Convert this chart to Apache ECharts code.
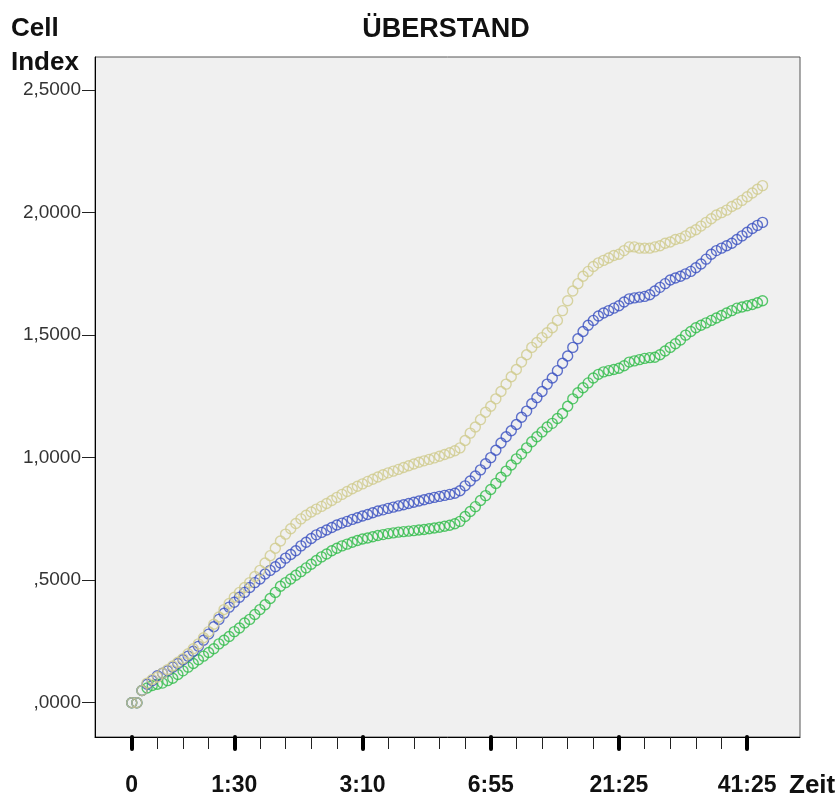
<!DOCTYPE html>
<html><head><meta charset="utf-8">
<script src="https://cdn.jsdelivr.net/npm/echarts@6/dist/echarts.min.js"></script>
<style>html,body{margin:0;padding:0;background:#fff}#c{width:840px;height:803px}</style>
</head><body><div id="c"></div>
<script>
// Tick labels on the time axis and the sample index each one sits at
const timeLabels = ['0', '1:30', '3:10', '6:55', '21:25', '41:25'];
const labelIdx = [0, 20, 45, 70, 95, 120];
const minorIdx = [0, 5, 10, 15, 20, 25, 30, 35, 40, 45, 50, 55, 60, 65, 70, 75, 80, 85, 90, 95, 100, 105, 110, 115, 120];
const yTicks = [0, 0.5, 1, 1.5, 2, 2.5];

// Cell Index per measurement (one value per sample index)
const yellow = [0,0,0.05,0.08,0.095,0.105,0.12,0.135,0.15,0.165,
0.18,0.20,0.22,0.24,0.265,0.29,0.32,0.35,0.38,0.405,
0.43,0.45,0.47,0.49,0.515,0.54,0.57,0.60,0.63,0.66,
0.688,0.71,0.731,0.75,0.765,0.778,0.79,0.801,0.813,0.825,
0.838,0.85,0.862,0.873,0.883,0.893,0.903,0.912,0.921,0.93,
0.938,0.945,0.952,0.96,0.967,0.974,0.981,0.987,0.993,0.999,
1.006,1.013,1.02,1.028,1.04,1.07,1.10,1.125,1.155,1.185,
1.21,1.24,1.27,1.30,1.33,1.36,1.39,1.42,1.45,1.47,
1.49,1.51,1.53,1.56,1.60,1.64,1.68,1.71,1.74,1.76,
1.78,1.795,1.805,1.815,1.825,1.83,1.845,1.86,1.86,1.855,
1.855,1.855,1.86,1.865,1.875,1.88,1.89,1.895,1.905,1.92,
1.93,1.945,1.96,1.975,1.99,2.00,2.01,2.025,2.035,2.05,
2.065,2.08,2.095,2.11];

const blue = [0,0,0.05,0.075,0.09,0.11,0.12,0.13,0.145,0.16,
0.175,0.19,0.21,0.23,0.255,0.28,0.31,0.34,0.365,0.39,
0.41,0.43,0.45,0.47,0.49,0.505,0.525,0.54,0.555,0.57,
0.59,0.605,0.62,0.64,0.655,0.67,0.685,0.695,0.705,0.715,
0.725,0.733,0.74,0.748,0.755,0.762,0.768,0.775,0.782,0.787,
0.793,0.798,0.803,0.808,0.813,0.818,0.823,0.828,0.833,0.838,
0.842,0.846,0.85,0.855,0.865,0.885,0.905,0.925,0.95,0.975,
1.00,1.03,1.06,1.085,1.11,1.135,1.165,1.19,1.22,1.245,
1.27,1.30,1.325,1.355,1.385,1.415,1.45,1.485,1.515,1.54,
1.56,1.578,1.59,1.60,1.61,1.62,1.635,1.648,1.652,1.655,
1.658,1.665,1.68,1.695,1.71,1.725,1.733,1.74,1.75,1.76,
1.775,1.79,1.81,1.83,1.845,1.855,1.865,1.875,1.89,1.905,
1.92,1.935,1.948,1.96];

const green = [0,0,0.05,0.06,0.07,0.075,0.08,0.09,0.10,0.115,
0.13,0.145,0.16,0.175,0.19,0.205,0.22,0.24,0.255,0.27,
0.29,0.305,0.325,0.34,0.36,0.38,0.40,0.425,0.45,0.475,
0.49,0.505,0.52,0.535,0.55,0.565,0.58,0.595,0.607,0.62,
0.63,0.64,0.647,0.655,0.662,0.668,0.672,0.677,0.682,0.686,
0.69,0.693,0.696,0.698,0.70,0.702,0.705,0.707,0.71,0.713,
0.716,0.72,0.724,0.73,0.74,0.76,0.78,0.80,0.825,0.845,
0.87,0.895,0.92,0.945,0.97,0.995,1.015,1.04,1.065,1.085,
1.105,1.125,1.14,1.16,1.18,1.21,1.24,1.265,1.285,1.305,
1.325,1.34,1.35,1.355,1.36,1.365,1.375,1.39,1.395,1.40,
1.405,1.408,1.41,1.42,1.435,1.45,1.465,1.48,1.50,1.515,
1.53,1.54,1.55,1.56,1.57,1.58,1.59,1.60,1.61,1.615,
1.62,1.625,1.632,1.64];

const X_MIN = -7.16, X_MAX = 130.3;
const Y_MIN = -0.14, Y_MAX = 2.635;

function yFmt(v) {
  let s = v.toFixed(4).replace('.', ',');
  if (s.startsWith('0,')) s = s.slice(1);
  return s;
}
function ser(name, arr, col) {
  return {
    name: name, type: 'scatter', xAxisIndex: 0, yAxisIndex: 0,
    data: arr.map((v, i) => [i, v]),
    symbol: 'circle', symbolSize: 10,
    itemStyle: { color: 'rgba(0,0,0,0)', borderColor: col, borderWidth: 1.4 },
    silent: true
  };
}

const chart = echarts.init(document.getElementById('c'), null, { renderer: 'canvas' });
chart.setOption({
  animation: false,
  backgroundColor: '#ffffff',
  grid: { left: 95, right: 40, top: 57, bottom: 66, show: true,
          backgroundColor: '#f0f0f0', borderColor: '#555', borderWidth: 1 },
  xAxis: [
    { type: 'value', min: X_MIN, max: X_MAX, position: 'bottom',
      axisLine: { show: true, onZero: false, lineStyle: { color: '#000', width: 1 } },
      splitLine: { show: false },
      axisTick: { show: true, customValues: minorIdx, length: 12, lineStyle: { color: '#222', width: 1 } },
      axisLabel: { show: false } },
    { type: 'value', min: X_MIN, max: X_MAX, position: 'bottom',
      axisLine: { show: false, onZero: false },
      splitLine: { show: false },
      axisTick: { show: true, customValues: labelIdx, length: 12, lineStyle: { color: '#000', width: 4, cap: 'round' } },
      axisLabel: { show: true, customValues: labelIdx,
        formatter: v => { const k = labelIdx.indexOf(Math.round(v)); return k >= 0 ? timeLabels[k] : ''; },
        margin: 37, color: '#111', fontFamily: 'Liberation Sans', fontWeight: 'bold', fontSize: 23 } }
  ],
  yAxis: {
    type: 'value', min: Y_MIN, max: Y_MAX,
    axisLine: { show: true, onZero: false, lineStyle: { color: '#000', width: 1 } },
    splitLine: { show: false },
    axisTick: { show: true, customValues: yTicks, length: 13, lineStyle: { color: '#222', width: 1 } },
    axisLabel: { customValues: yTicks, formatter: yFmt, margin: 14, color: '#333',
                 fontFamily: 'Liberation Sans', fontSize: 19 }
  },
  graphic: [
    { type: 'text', x: 446, y: 16, style: { text: 'ÜBERSTAND', font: 'bold 27px "Liberation Sans"', fill: '#111', align: 'center', verticalAlign: 'top' } },
    { type: 'text', x: 11, y: 12, style: { text: 'Cell\nIndex', font: 'bold 26px "Liberation Sans"', lineHeight: 34, fill: '#111' } },
    { type: 'text', x: 789, y: 773, style: { text: 'Zeit', font: 'bold 26px "Liberation Sans"', fill: '#111' } }
  ],
  series: [
    ser('Serie 3', green, '#2fbb48'),
    ser('Serie 2', blue, '#3a50c0'),
    ser('Serie 1', yellow, '#d0ca8c')
  ]
});
</script>
</body></html>
